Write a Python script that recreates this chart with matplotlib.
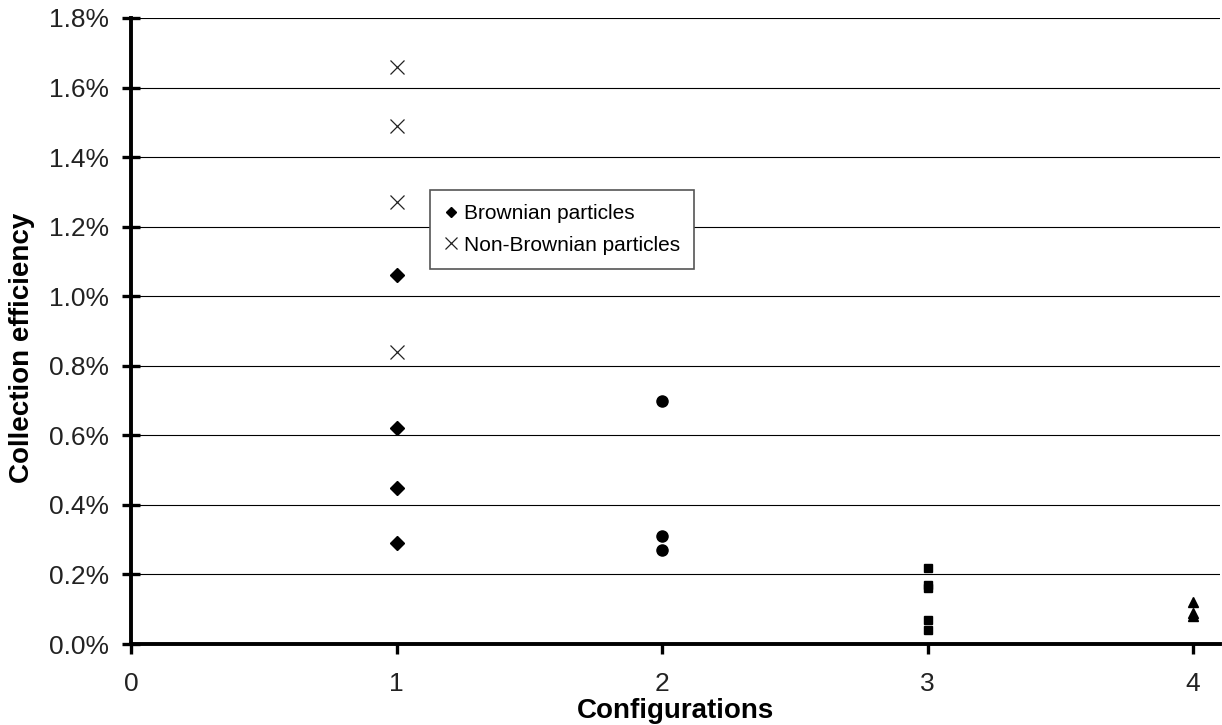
import matplotlib
matplotlib.use('Agg')
import matplotlib.pyplot as plt
from matplotlib.ticker import PercentFormatter, MultipleLocator

plt.rcParams['font.family'] = ['Liberation Sans', 'DejaVu Sans']

# configuration 1: Brownian / Non-Brownian particles
brown_x = [1, 1, 1, 1]
brown_y = [0.0106, 0.0062, 0.0045, 0.0029]
nonbrown_x = [1, 1, 1, 1]
nonbrown_y = [0.0166, 0.0149, 0.0127, 0.0084]
# configurations 2, 3, 4
conf2_x = [2, 2, 2]
conf2_y = [0.0070, 0.0031, 0.0027]
conf3_x = [3, 3, 3, 3, 3]
conf3_y = [0.0022, 0.0017, 0.0016, 0.0007, 0.0004]
conf4_x = [4, 4, 4]
conf4_y = [0.0012, 0.0009, 0.0008]

fig = plt.figure(figsize=(12.22, 7.25), dpi=100)
ax = fig.add_axes([0.1072, 0.1117, 0.8908, 0.8635])

ax.plot(brown_x, brown_y, 'D', color='black', ms=7, ls='none', label='Brownian particles')
ax.plot(nonbrown_x, nonbrown_y, 'x', color='#222222', ms=10, mew=0.9, ls='none',
        label='Non-Brownian particles')
ax.plot(conf2_x, conf2_y, 'o', color='black', ms=8, ls='none')
ax.plot(conf3_x, conf3_y, 's', color='black', ms=5.5, ls='none')
ax.plot(conf4_x, conf4_y, '^', color='black', ms=6.5, ls='none')

ax.set_xlim(0, 4.1)
ax.set_ylim(0, 0.018)
ax.xaxis.set_major_locator(MultipleLocator(1))
ax.yaxis.set_major_locator(MultipleLocator(0.002))
ax.yaxis.set_major_formatter(PercentFormatter(xmax=1, decimals=1))

ax.grid(axis='y', color='black', lw=0.8)
ax.set_axisbelow(True)
for s in ['top', 'right']:
    ax.spines[s].set_visible(False)
for s in ['left', 'bottom']:
    ax.spines[s].set_linewidth(2.8)

ax.tick_params(axis='y', direction='inout', length=13, width=2.4, labelsize=19, pad=9,
               labelcolor='#222222')
ax.tick_params(axis='x', direction='out', length=7, width=2.4, labelsize=19, pad=13,
               labelcolor='#222222')

ax.set_xlabel('Configurations', fontsize=20, fontweight='bold')
ax.set_ylabel('Collection efficiency', fontsize=20, fontweight='bold')
ax.xaxis.set_label_coords(0.5, -0.086)
ax.yaxis.set_label_coords(-0.088, 0.473)

leg = ax.legend(loc='upper left', bbox_to_anchor=(0.2654, 0.7426), fontsize=15,
                frameon=True, fancybox=False, edgecolor='#555555', framealpha=1,
                handlelength=0.6, handletextpad=0.3, borderpad=0.7, labelspacing=0.6,
                markerscale=0.8)
leg.get_frame().set_linewidth(1.2)

fig.savefig('out.png', dpi=100)
